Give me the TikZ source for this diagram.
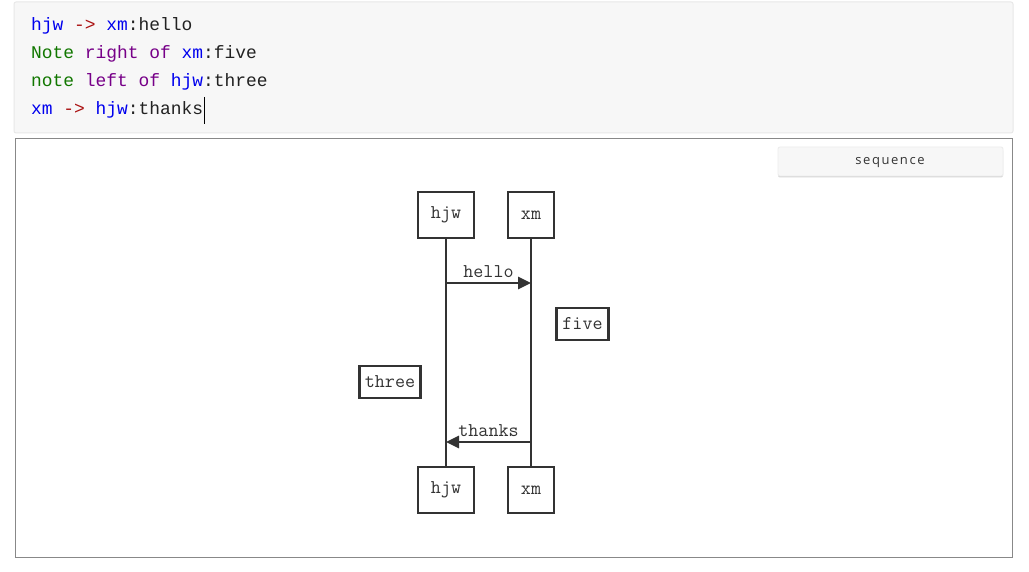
\documentclass[tikz,border=0pt]{standalone}
\usepackage{fontspec}
\usetikzlibrary{arrows.meta}
\newfontfamily\codefont{Liberation Mono}
\newfontfamily\uifont[LetterSpace=12]{Open Sans}
\definecolor{cblue}{HTML}{0000EE}
\definecolor{cgreen}{HTML}{117700}
\definecolor{cpurple}{HTML}{770088}
\definecolor{cred}{HTML}{AA1111}
\definecolor{ctext}{HTML}{222222}
\definecolor{dline}{HTML}{333333}
\definecolor{codebg}{HTML}{F7F7F7}
\definecolor{codeborder}{HTML}{E8E8E8}
\definecolor{frame}{HTML}{888888}
\definecolor{btnshadow}{HTML}{D7D7D7}
\definecolor{btnborder}{HTML}{ECECEC}
\tikzset{
  codeline/.style={anchor=base west, inner sep=0pt, font=\codefont\fontsize{17.9}{20}\selectfont, text=ctext},
  actor/.style={draw=dline, line width=2.9pt, minimum width=56pt, minimum height=46pt, inner sep=0pt, font=\ttfamily\fontsize{19.5}{22}\selectfont, text=dline},
  notebox/.style={draw=dline, line width=2.9pt, minimum height=32pt, inner xsep=5.5pt, inner ysep=0pt, font=\ttfamily\fontsize{19.5}{22}\selectfont, text=dline},
  lifeline/.style={draw=dline, line width=2.7pt},
  msg/.style={draw=dline, line width=2.7pt, -{Triangle[length=13pt,width=12pt]}},
  msglabel/.style={above=4.5pt, inner sep=0pt, font=\ttfamily\fontsize{19.5}{22}\selectfont, text=dline}
}
\begin{document}
\begin{tikzpicture}[x=1pt,y=-1pt]
\useasboundingbox (0,0) rectangle (1029,572);
\fill[white] (0,0) rectangle (1029,572);
% code area
\draw[fill=codebg, draw=codeborder, line width=1pt, rounded corners=2pt] (14,2) rectangle (1013,133);
\node[codeline] (l1) at (31,31) {\textcolor{cblue}{hjw} \textcolor{cred}{->} \textcolor{cblue}{xm}:hello};
\node[codeline] (l2) at (31,59) {\textcolor{cgreen}{Note} \textcolor{cpurple}{right of} \textcolor{cblue}{xm}:five};
\node[codeline] (l3) at (31,87) {\textcolor{cgreen}{note} \textcolor{cpurple}{left of} \textcolor{cblue}{hjw}:three};
\node[codeline] (l4) at (31,115) {\textcolor{cblue}{xm} \textcolor{cred}{->} \textcolor{cblue}{hjw}:thanks};
\draw[black, line width=1pt] (204,97) -- (204,124);
% diagram frame
\draw[draw=frame, line width=1pt] (15.5,138.5) rectangle (1012.5,557.5);
% sequence button
\fill[btnshadow, rounded corners=2pt] (778,148.5) rectangle (1003,177.5);
\draw[fill=codebg, draw=btnborder, line width=0.8pt, rounded corners=2pt] (778,147) rectangle (1003,176);
\node[inner sep=0pt, font=\uifont\fontsize{13}{15}\selectfont, text=dline] (btn) at (890,162.5) {sequence};
% actors
\node[actor] (a1t) at (446,215) {hjw};
\node[actor, minimum width=46pt] (a2t) at (531,215) {xm};
\node[actor] (a1b) at (446,490) {hjw};
\node[actor, minimum width=46pt] (a2b) at (531,490) {xm};
\draw[lifeline] (a1t.south) -- (a1b.north);
\draw[lifeline] (a2t.south) -- (a2b.north);
% messages
\coordinate (h1) at (446,283);
\coordinate (h2) at (531,283);
\draw[msg] (h1) -- (h2) node[midway, msglabel] (lhello) {hello};
\coordinate (t1) at (531,442);
\coordinate (t2) at (446,442);
\draw[msg] (t1) -- (t2) node[midway, msglabel] (lthanks) {thanks};
% notes
\node[notebox] (five) at (582.5,324) {five};
\node[notebox] (three) at (390,382) {three};
\end{tikzpicture}
\end{document}
